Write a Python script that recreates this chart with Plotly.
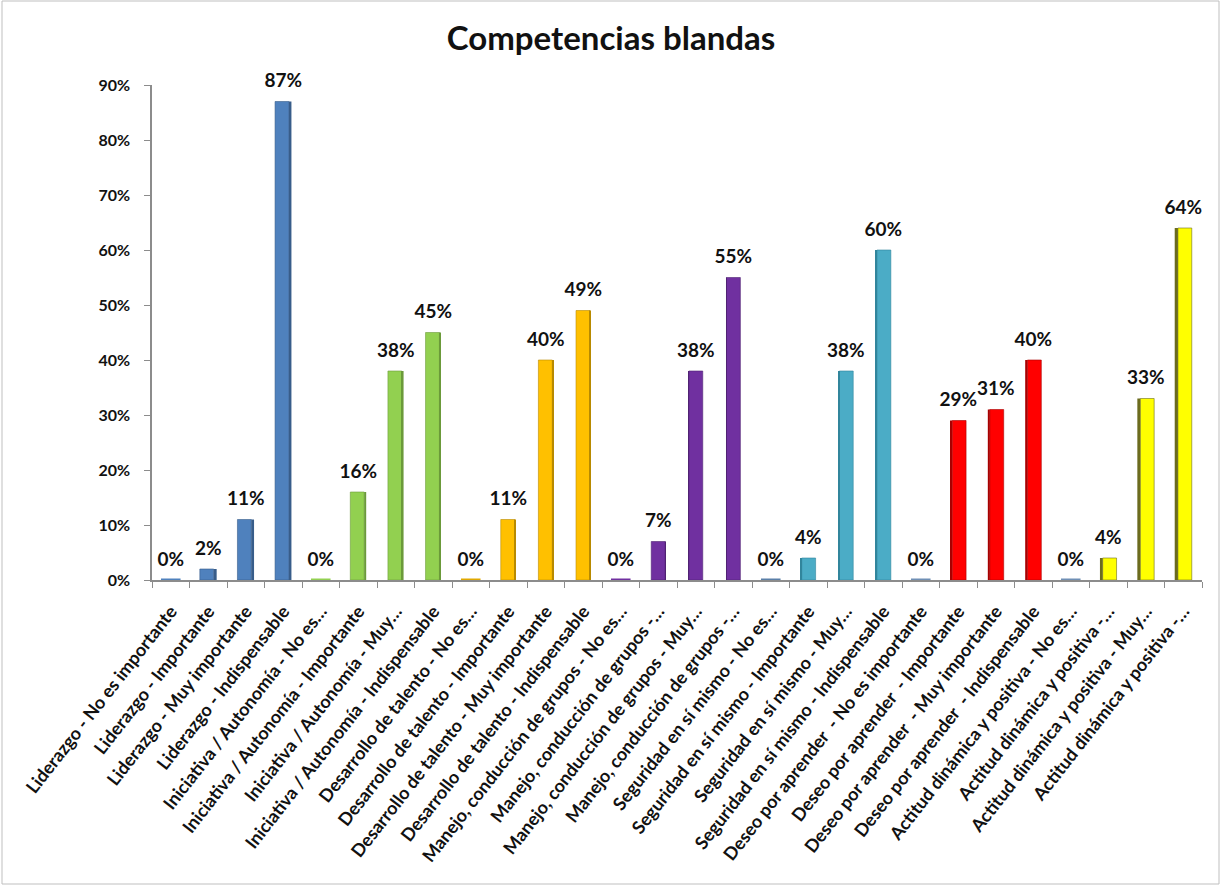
import plotly.graph_objects as go

# Soft-skill ratings (percent of respondents)
categories = [
    "Liderazgo - No es importante",
    "Liderazgo - Importante",
    "Liderazgo - Muy importante",
    "Liderazgo - Indispensable",
    "Iniciativa / Autonomía - No es…",
    "Iniciativa / Autonomía - Importante",
    "Iniciativa / Autonomía - Muy…",
    "Iniciativa / Autonomía - Indispensable",
    "Desarrollo de talento - No es…",
    "Desarrollo de talento - Importante",
    "Desarrollo de talento - Muy importante",
    "Desarrollo de talento - Indispensable",
    "Manejo, conducción de grupos - No es…",
    "Manejo, conducción de grupos -…",
    "Manejo, conducción de grupos - Muy…",
    "Manejo, conducción de grupos -…",
    "Seguridad en sí mismo - No es…",
    "Seguridad en sí mismo - Importante",
    "Seguridad en sí mismo - Muy…",
    "Seguridad en sí mismo - Indispensable",
    "Deseo por aprender  - No es importante",
    "Deseo por aprender  - Importante",
    "Deseo por aprender  - Muy importante",
    "Deseo por aprender  - Indispensable",
    "Actitud dinámica y positiva - No es…",
    "Actitud dinámica y positiva -…",
    "Actitud dinámica y positiva - Muy…",
    "Actitud dinámica y positiva -…",
]

liderazgo = [0, 2, 11, 87]
iniciativa = [0, 16, 38, 45]
talento = [0, 11, 40, 49]
manejo = [0, 7, 38, 55]
seguridad = [0, 4, 38, 60]
aprender = [0, 29, 31, 40]
actitud = [0, 4, 33, 64]

y_ticks = [0, 10, 20, 30, 40, 50, 60, 70, 80, 90]
y_tick_labels = ["0%", "10%", "20%", "30%", "40%", "50%", "60%", "70%", "80%", "90%"]

groups = [liderazgo, iniciativa, talento, manejo, seguridad, aprender, actitud]
values = [v for g in groups for v in g]

# Front / side / empty-top colours per group
front_cols = ["#4F81BD", "#92D050", "#FFC000", "#7030A0", "#4BACC6", "#FF0000", "#FFFF00"]
side_cols = ["#385D8A", "#6B9A3A", "#B88A00", "#4F2272", "#31859C", "#A80000", "#6B6B1E"]
flat_cols = ["#4F81BD", "#92D050", "#E0A800", "#7030A0", "#5A7FA8", "#6F8FB5", "#6F8FB5"]

n = len(values)
xs = list(range(n))
gi = [i // 4 for i in range(n)]
front = [front_cols[g] for g in gi]
side = [side_cols[g] for g in gi]
flat = [flat_cols[g] for g in gi]

# Pseudo-3D: a darker side face whose width/side depends on distance from centre
FW = 0.37
center = (n - 1) / 2
front_off, side_off, side_w = [], [], []
for i in range(n):
    d = (i - center) / center
    w = abs(d) * 0.085
    if d < 0:
        front_off.append(-(FW + w) / 2)
        side_off.append(-(FW + w) / 2 + FW)
    else:
        side_off.append(-(FW + w) / 2)
        front_off.append(-(FW + w) / 2 + w)
    side_w.append(max(w, 0.0001))

fig = go.Figure()
fig.add_trace(go.Bar(
    x=xs, y=values, width=FW, offset=front_off,
    marker=dict(color=front, line=dict(color=side, width=0.6)),
    hoverinfo="skip", showlegend=False,
))
fig.add_trace(go.Bar(
    x=xs, y=values, width=side_w, offset=side_off,
    marker=dict(color=side, line=dict(width=0)),
    hoverinfo="skip", showlegend=False,
))

# Flat top face for empty columns
zero_x = [x for x, v in zip(xs, values) if v == 0]
zero_y = [v for v in values if v == 0]
zero_c = [c for c, v in zip(flat, values) if v == 0]
fig.add_trace(go.Scatter(
    x=zero_x, y=zero_y, mode="markers",
    marker=dict(symbol="line-ew", size=14, color=zero_c,
                line=dict(color=zero_c, width=3)),
    hoverinfo="skip", showlegend=False, cliponaxis=False,
))

# Value labels
fig.add_trace(go.Scatter(
    x=xs, y=values, mode="text+markers",
    marker=dict(size=14, opacity=0),
    text=[f"{v}%" for v in values], textposition="top center",
    textfont=dict(family="Lato", size=19, color="#111111", weight="bold"),
    hoverinfo="skip", showlegend=False, cliponaxis=False,
))

W, H = 1222, 886
L, R, T, B = 152, 20, 85, 306
pw, ph = W - L - R, H - T - B

fig.update_layout(
    width=W, height=H,
    margin=dict(l=L, r=R, t=T, b=B),
    paper_bgcolor="white", plot_bgcolor="white",
    barmode="overlay",
    title=dict(text="<b>Competencias blandas</b>", x=0.5, xanchor="center",
               y=1 - 38 / H, yanchor="middle",
               font=dict(family="Lato", size=33, color="#111111")),
    xaxis=dict(
        range=[-0.5, n - 0.5], tickmode="array", tickvals=xs, ticktext=categories,
        tickangle=-52, ticks="", showgrid=False, zeroline=False,
        showline=True, linecolor="#8C8C8C", linewidth=1.5,
        ticklabelstandoff=12,
        tickfont=dict(family="Lato", size=18, color="#111111", weight="bold"),
        minor=dict(tickmode="array", tickvals=[i - 0.5 for i in range(n + 1)],
                   ticks="outside", ticklen=6, tickcolor="#8C8C8C", showgrid=False),
    ),
    yaxis=dict(
        range=[0, 90], tickmode="array", tickvals=y_ticks, ticktext=y_tick_labels,
        ticks="outside", ticklen=6, tickcolor="#8C8C8C",
        showline=True, linecolor="#8C8C8C", linewidth=1.5,
        showgrid=False, zeroline=False, ticklabelstandoff=11,
        tickfont=dict(family="Lato", size=16, color="#111111", weight="bold"),
    ),
    shapes=[dict(
        type="rect", xref="paper", yref="paper",
        x0=(2 - L) / pw, x1=(W - 3 - L) / pw,
        y0=(T + ph - (H - 2)) / ph, y1=(T + ph - 1) / ph,
        line=dict(color="#BFBFBF", width=1), fillcolor="rgba(0,0,0,0)",
        layer="below",
    )],
)

fig.write_html("out.html")
